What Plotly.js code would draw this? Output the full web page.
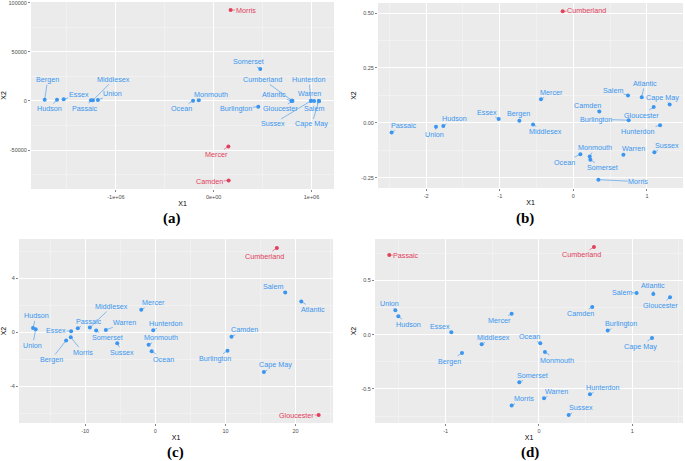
<!DOCTYPE html>
<html><head><meta charset="utf-8">
<script src="https://cdn.plot.ly/plotly-3.0.1.min.js"></script>
<style>html,body{margin:0;padding:0;background:#fff}#chart{width:685px;height:461px}</style>
</head><body><div id="chart"></div>
<script>
const counties = ['Atlantic','Bergen','Burlington','Camden','Cape May','Cumberland','Essex','Gloucester','Hudson','Hunterdon','Mercer','Middlesex','Monmouth','Morris','Ocean','Passaic','Salem','Somerset','Sussex','Union','Warren'];

// Panel (a)
const aX1 = [795000,-1728000,456000,153000,1075000,800000,-1534000,805000,-1602000,995000,150000,-1235000,-153000,173000,-211000,-1255000,1078000,476000,993000,-1184000,1027000];
const aX2 = [0,1360,-5780,-80950,0,500,1700,0,1360,200,-46260,700,680,92500,340,700,0,32650,0,1020,0];
const aOutliers = ['Camden','Mercer','Morris'];
// Panel (b)
const bX1 = [0.929,-0.734,0.752,0.353,1.309,-0.145,-1.015,1.092,-1.767,1.178,-0.44,-0.548,0.222,0.34,0.095,-2.47,0.743,0.231,1.101,-1.867,0.68];
const bX2 = [0.116,0.009,0.012,0.052,0.084,0.508,0.017,0.072,-0.014,-0.011,0.107,-0.008,-0.154,-0.259,-0.143,-0.044,0.125,-0.168,-0.134,-0.018,-0.146];
const bOutliers = ['Cumberland'];
// Panel (c)
const cX1 = [20.81,-12.71,10.29,10.86,15.48,17.33,-12.0,23.29,-17.43,-0.29,-2.0,-9.33,-0.95,-12.05,-0.52,-11.05,18.52,-8.43,-5.43,-17.05,-7.05];
const cX2 = [2.28,-0.61,-1.37,-0.34,-2.94,6.23,0.07,-6.13,0.32,0.15,1.67,0.34,-0.93,-0.37,-1.40,0.29,2.94,0.12,-0.81,0.22,0.17];
const cOutliers = ['Cumberland','Gloucester'];
// Panel (d)
const dX1 = [1.225,-0.825,0.736,0.571,1.211,0.589,-0.939,1.404,-1.507,0.546,-0.293,-0.614,0.064,-0.293,0.014,-1.604,1.046,-0.211,0.318,-1.539,0.054];
const dX2 = [0.374,-0.169,0.037,0.255,-0.031,0.807,0.021,0.344,0.169,-0.549,0.193,-0.089,-0.16,-0.653,-0.08,0.733,0.383,-0.439,-0.739,0.224,-0.586];
const dOutliers = ['Passaic','Cumberland'];

// tick labels
const aXTicks = [-1e6,0,1e6], aXTickText = ['-1e+06','0e+00','1e+06'];
const aYTicks = [-50000,0,50000,100000], aYTickText = ['-50000','0','50000','100000'];
const bXTicks = [-2,-1,0,1], bXTickText = ['-2','-1','0','1'];
const bYTicks = [-0.25,0,0.25,0.5], bYTickText = ['-0.25','0.00','0.25','0.50'];
const cXTicks = [-10,0,10,20], cXTickText = ['-10','0','10','20'];
const cYTicks = [-4,0,4], cYTickText = ['-4','0','4'];
const dXTicks = [-1,0,1], dXTickText = ['-1','0','1'];
const dYTicks = [-0.5,0,0.5], dYTickText = ['-0.5','0.0','0.5'];
const panelLabels = ['(a)','(b)','(c)','(d)'];

// label offsets (pixels) for repelled labels — layout only
const aDx = [-17,3,-22,-19,-7,-29,15,-12,-8,-2,-12,21,12,15,-12,-6,-5,-12,-38,15,-5];
const aDy = [-6,-20,2,1,23,-21,-5,8,9,-21,8,-21,-6,0,8,8,8,-7,23,-6,-7];
const bDx = [3,-1,-33,-12,-7,24,-12,-12,11,-22,11,12,5,40,-16,12,-15,12,13,-1,10];
const bDy = [-14,-7,-1,-6,-7,-1,-7,8,-7,6,-7,7,-9,2,8,-7,-5,8,-7,8,-6];
const cDx = [12,-15,-12,13,12,-12,-15,-22,3,13,12,22,12,12,12,11,-12,11,5,-3,19];
const cDy = [8,19,8,-7,-7,8,-1,0,-12,-7,-7,-21,-7,15,8,-7,-6,7,9,16,-7];
const dDx = [0,-12,13,-12,-12,-12,-11,-10,10,13,-12,12,12,12,-11,17,-15,13,12,-6,12];
const dDy = [-8,8,-7,7,8,8,-6,8,8,-7,7,-7,8,-7,-7,1,-1,-7,-7,-7,-7];

const BLUE = '#3A96F0', RED = '#E2405C', BG = '#EBEBEB';
const W = 685, H = 461;

const panels = [
  {xs:aX1, ys:aX2, out:aOutliers, dx:aDx, dy:aDy, xt:aXTicks, xtt:aXTickText, yt:aYTicks, ytt:aYTickText,
   xr:[-1868000,1230000], yr:[-89550,100700], xminor:[-1.5e6,-0.5e6,0.5e6], yminor:[-75000,-25000,25000,75000],
   box:[31,334,2,189], lab:[172,218]},
  {xs:bX1, ys:bX2, out:bOutliers, dx:bDx, dy:bDy, xt:bXTicks, xtt:bXTickText, yt:bYTicks, ytt:bYTickText,
   xr:[-2.655,1.49], yr:[-0.297,0.546], xminor:[-2.5,-1.5,-0.5,0.5,1.5], yminor:[-0.125,0.125,0.375],
   box:[378,683,3,188], lab:[525,218]},
  {xs:cX1, ys:cX2, out:cOutliers, dx:cDx, dy:cDy, xt:cXTicks, xtt:cXTickText, yt:cYTicks, ytt:cYTickText,
   xr:[-19.43,25.33], yr:[-6.72,6.9], xminor:[-15,-5,5,15,25], yminor:[-6,-2,2,6],
   box:[19,333,239,423], lab:[175,452]},
  {xs:dX1, ys:dX2, out:dOutliers, dx:dDx, dy:dDy, xt:dXTicks, xtt:dXTickText, yt:dYTicks, ytt:dYTickText,
   xr:[-1.757,1.543], yr:[-0.813,0.88], xminor:[-1.5,-0.5,0.5,1.5], yminor:[-0.75,-0.25,0.25,0.75],
   box:[375,683,239,423], lab:[530,452]}
];

const traces = [], annotations = [], layout = {
  width:W, height:H, margin:{l:0,r:0,t:0,b:0}, paper_bgcolor:'#fff', plot_bgcolor:BG,
  showlegend:false, font:{family:'Liberation Sans, Arial, sans-serif'}
};

panels.forEach((p, i) => {
  const sfx = i === 0 ? '' : String(i + 1);
  const xa = 'x' + sfx, ya = 'y' + sfx;
  const [l, r, t, b] = p.box;
  const axCommon = {
    showgrid:true, gridcolor:'#FFFFFF', gridwidth:1, zeroline:false, showline:false,
    ticks:'outside', ticklen:2, tickwidth:0.6, tickcolor:'#333333',
    tickfont:{size:5.5, color:'#4D4D4D'}, automargin:false, fixedrange:true,
    ticklabeloverflow:'allow'
  };
  layout['xaxis' + sfx] = Object.assign({}, axCommon, {
    domain:[l / W, r / W], anchor:ya, range:p.xr, tickmode:'array', tickvals:p.xt, ticktext:p.xtt,
    minor:{tickmode:'array', tickvals:p.xminor, showgrid:true, gridcolor:'#F7F7F7', gridwidth:0.5, ticks:''},
    title:{text:'X1', font:{size:7, color:'#000'}, standoff:2}
  });
  layout['yaxis' + sfx] = Object.assign({}, axCommon, {
    domain:[1 - b / H, 1 - t / H], anchor:xa, range:p.yr, tickmode:'array', tickvals:p.yt, ticktext:p.ytt,
    minor:{tickmode:'array', tickvals:p.yminor, showgrid:true, gridcolor:'#F7F7F7', gridwidth:0.5, ticks:''},
    title:{text:'X2', font:{size:7, color:'#000'}, standoff:3}
  });

  const isOut = counties.map(c => p.out.includes(c));
  [false, true].forEach(flag => {
    const idx = counties.map((c, k) => k).filter(k => isOut[k] === flag);
    traces.push({
      type:'scatter', mode:'markers', xaxis:xa, yaxis:ya,
      x:idx.map(k => p.xs[k]), y:idx.map(k => p.ys[k]), text:idx.map(k => counties[k]),
      marker:{size:4, color:flag ? RED : BLUE}, hoverinfo:'text', cliponaxis:false
    });
  });
  counties.forEach((c, k) => {
    const col = isOut[k] ? RED : BLUE;
    annotations.push({
      xref:xa, yref:ya, x:p.xs[k], y:p.ys[k], text:c, showarrow:true,
      ax:p.dx[k], ay:p.dy[k], arrowhead:0, arrowwidth:0.6, arrowcolor:col,
      standoff:0, startstandoff:0, borderpad:0,
      font:{size:7.2, color:col, family:'Liberation Sans, Arial, sans-serif'}
    });
  });
  annotations.push({
    xref:'paper', yref:'paper', x:p.lab[0] / W, y:1 - p.lab[1] / H,
    xanchor:'center', yanchor:'middle',
    text:'<b>' + panelLabels[i] + '</b>', showarrow:false,
    font:{size:15, color:'#000', family:'Liberation Serif, Times New Roman, serif'}
  });
});
layout.annotations = annotations;

Plotly.newPlot('chart', traces, layout, {displayModeBar:false, staticPlot:true});
</script>
</body></html>
